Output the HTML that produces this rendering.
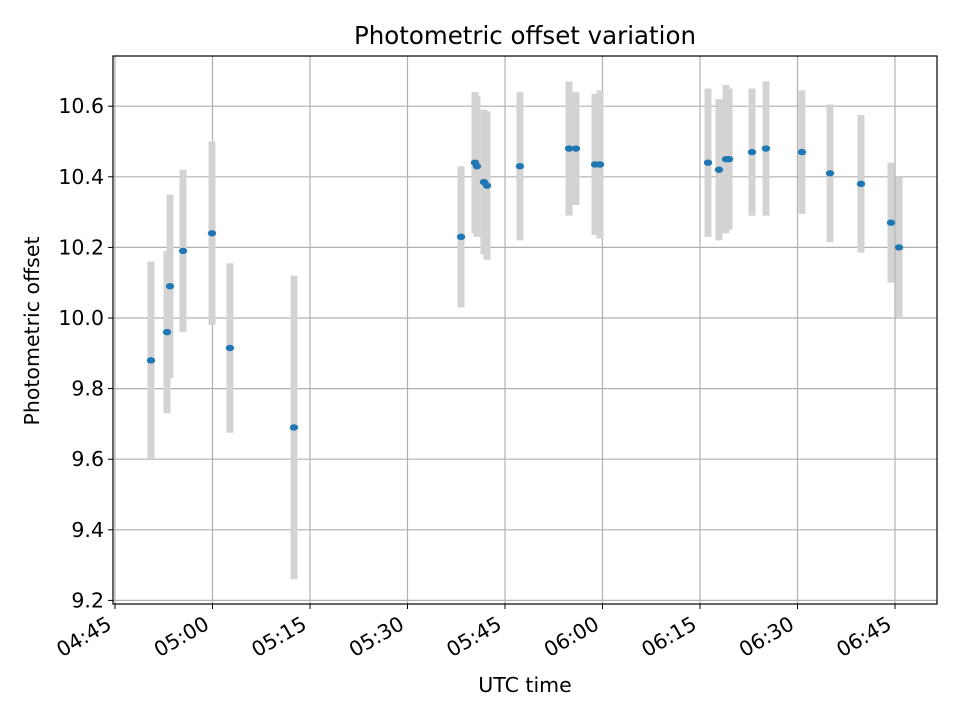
<!DOCTYPE html>
<html><head><meta charset="utf-8"><style>
body{margin:0;background:#fff;}
svg{display:block;font-family:"DejaVu Sans","Liberation Sans",sans-serif;}
</style></head><body>
<svg id="chart" width="960" height="720" viewBox="0 0 960 720"></svg>
<script>
const times = ["04:50:32","04:53:00","04:53:28","04:55:28","04:59:55","05:02:41","05:12:32","05:38:14","05:40:23","05:40:41","05:41:46","05:42:14","05:47:18","05:54:51","05:55:55","05:58:51","05:59:37","06:16:14","06:17:55","06:19:00","06:19:28","06:23:00","06:25:09","06:30:41","06:35:00","06:39:46","06:44:23","06:45:37"];
const offsets = [9.88,9.96,10.09,10.19,10.24,9.915,9.69,10.23,10.44,10.43,10.385,10.375,10.43,10.48,10.48,10.435,10.435,10.44,10.42,10.45,10.45,10.47,10.48,10.47,10.41,10.38,10.27,10.20];
const errors = [0.28,0.23,0.26,0.23,0.26,0.24,0.43,0.2,0.2,0.2,0.205,0.21,0.21,0.19,0.16,0.2,0.21,0.21,0.2,0.21,0.2,0.18,0.19,0.175,0.195,0.195,0.17,0.2];
const yTicks = [9.2,9.4,9.6,9.8,10.0,10.2,10.4,10.6];
const xTicks = ["04:45","05:00","05:15","05:30","05:45","06:00","06:15","06:30","06:45"];

const NS="http://www.w3.org/2000/svg";
const svg=document.getElementById('chart');
const L=113,R=937,T=56,B=604;
function toMin(s){const p=s.split(':').map(Number);return p[0]*60+p[1]+(p[2]||0)/60;}
const x0=toMin("04:45");
function X(t){return 115+(toMin(t)-x0)*6.5;}
function Y(v){return 318-(v-10)*353;}
function mk(tag,attrs,parent){const e=document.createElementNS(NS,tag);for(const k in attrs)e.setAttribute(k,attrs[k]);(parent||svg).appendChild(e);return e;}

const grid=mk('g',{});


yTicks.forEach(v=>{
  const l=mk('line',{x1:L,x2:R,y1:Y(v),y2:Y(v),stroke:'#b0b0b0','stroke-width':1.2},grid);
  
  
  const tk=mk('line',{x1:L-5,x2:L,y1:Y(v),y2:Y(v),stroke:'#000','stroke-width':1});
  
  
  const t=mk('text',{x:L-9,y:Y(v)+7,'text-anchor':'end','font-size':20.5,fill:'#000'});
  t.textContent=v.toFixed(1);
  
  
});
xTicks.forEach(s=>{
  const x=X(s);
  const l=mk('line',{x1:x,x2:x,y1:T,y2:B,stroke:'#b0b0b0','stroke-width':1.2},grid);
  
  
  const tk=mk('line',{x1:x,x2:x,y1:B,y2:B+5,stroke:'#000','stroke-width':1});
  
  
  const ax=x-2, ay=B+24;
  const t=mk('text',{x:ax,y:ay,'text-anchor':'end','font-size':20.5,fill:'#000',transform:`rotate(-30 ${ax} ${ay})`});
  t.textContent=s;
  
  
});
const bars=mk('g',{});


times.forEach((s,i)=>{
  const x=X(s);
  const r=mk('rect',{x:x-3.5,y:Y(offsets[i]+errors[i]),width:7,height:Y(offsets[i]-errors[i])-Y(offsets[i]+errors[i]),fill:'#d3d3d3'},bars);
  
  
});
const pts=mk('g',{});


times.forEach((s,i)=>{
  const c=mk('ellipse',{cx:X(s),cy:Y(offsets[i]),rx:4.2,ry:3.2,fill:'#1f77b4'},pts);
  
  
});
const fr=mk('rect',{x:L,y:T,width:R-L,height:B-T,fill:'none',stroke:'#000','stroke-width':1.2});


const ti=mk('text',{x:(L+R)/2,y:44,'text-anchor':'middle','font-size':24.5,fill:'#000'});
ti.textContent='Photometric offset variation';


const xl=mk('text',{x:(L+R)/2,y:692,'text-anchor':'middle','font-size':20.5,fill:'#000'});
xl.textContent='UTC time';


const yl=mk('text',{x:39,y:331,'text-anchor':'middle','font-size':20.5,fill:'#000',transform:'rotate(-90 39 331)'});
yl.textContent='Photometric offset';


</script>
</body></html>
